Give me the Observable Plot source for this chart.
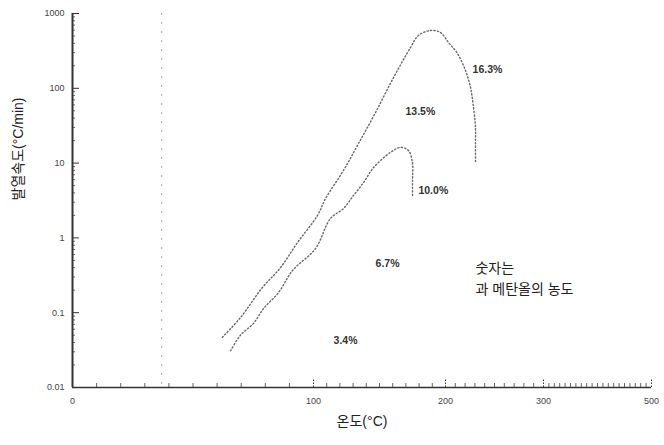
<!DOCTYPE html>
<html><head><meta charset="utf-8">
<script src="https://cdn.jsdelivr.net/npm/d3@7"></script>
<script src="https://cdn.jsdelivr.net/npm/@observablehq/plot@0.6"></script>
<style>
body{margin:0;background:#fff}
svg{font-family:"Liberation Sans","Noto Sans CJK KR",Arial,sans-serif}
</style>
</head><body><div id="chart"></div>
<script>
// tick values / labels
const xTicks = [0, 100, 200, 300, 500];
const xTickLabels = ["0", "100", "200", "300", "500"];
const yTicks = [0.01, 0.1, 1, 10, 100, 1000];
const yTickLabels = ["0.01", "0.1", "1", "10", "100", "1000"];

// visible curves (16.3% outer, 10.0% inner)
const curve163X = [62.2, 69.7, 78.8, 86.3, 93.4, 103.0, 109.1, 122.7, 134.1, 147, 160.6, 173.5, 179.5, 188.6, 196.2, 203.1, 212.2, 220.4, 225.5, 228.6, 230.6, 230.6, 230.6];
const curve163Y = [0.047, 0.086, 0.217, 0.40, 0.87, 1.99, 3.36, 7.96, 18.3, 47.5, 139, 351, 508, 593, 557, 409, 292, 173, 103, 55, 30, 18.3, 9.9];
const curve100X = [65.6, 69.7, 75.1, 79.3, 85.5, 91.3, 101.5, 112.9, 122.7, 130.3, 137.9, 145.5, 158.3, 165.9, 172, 175, 175, 175];
const curve100Y = [0.031, 0.050, 0.072, 0.114, 0.186, 0.366, 0.72, 1.82, 2.47, 3.69, 5.5, 8.7, 13.9, 16.2, 14.7, 9.9, 5.85, 3.47];

// series labels
const seriesNames = ["16.3%", "13.5%", "10.0%", "6.7%", "3.4%"];
const labelX = [227.6, 169.7, 179.5, 147, 115.2];
const labelY = [178, 49, 4.3, 0.455, 0.0425];

const noteText = "숫자는\n과 메탄올의 농도";
const noteX = 230.6, noteY = 0.3;
const xTitle = "온도(°C)";
const yTitle = "발열속도(°C/min)";

const lineData = [
  ...curve163X.map((x, i) => ({series: "16.3%", x, y: curve163Y[i]})),
  ...curve100X.map((x, i) => ({series: "10.0%", x, y: curve100Y[i]}))
];
const labels = seriesNames.map((t, i) => ({t, x: labelX[i], y: labelY[i]}));

const xMinor = d3.range(0, 501, 10).filter(v => !xTicks.includes(v));
const yMinor = [];
for (let e = -2; e < 3; e++) for (let m = 2; m <= 9; m++) yMinor.push(m * Math.pow(10, e));

const ink = "#333";
const chart = Plot.plot({
  width: 664, height: 445,
  marginLeft: 72, marginRight: 13, marginTop: 13, marginBottom: 58,
  x: {type: "linear", domain: [0, 100, 200, 300, 500], range: [72, 313, 445, 543, 651]},
  y: {type: "log", domain: [0.01, 1000]},
  marks: [
    Plot.ruleX([37], {stroke: "#aaa", strokeDasharray: "2,7", strokeWidth: 1}),
    Plot.line(lineData, {x: "x", y: "y", z: "series", curve: "catmull-rom",
      stroke: "#666", strokeWidth: 1.4, strokeDasharray: "1.2,2.3"}),
    Plot.axisY(yTicks, {anchor: "left", tickSize: -7, tickFormat: () => "", label: null, stroke: ink}),
    Plot.axisY(yMinor, {anchor: "left", tickSize: -3, tickFormat: () => "", label: null, stroke: "#666"}),
    Plot.axisY(yTicks, {anchor: "left", tickSize: 0, tickPadding: 8, fontSize: 9, fill: "#444",
      tickFormat: d => yTickLabels[yTicks.indexOf(d)], label: null}),
    Plot.axisX(xTicks, {anchor: "bottom", tickSize: -9, tickFormat: () => "", label: null, stroke: ink, strokeDasharray: "1.5,1.5"}),
    Plot.axisX(xMinor, {anchor: "bottom", tickSize: -4, tickFormat: () => "", label: null, stroke: "#666"}),
    Plot.axisX(xTicks, {anchor: "bottom", tickSize: 0, tickPadding: 10, fontSize: 9, fill: "#444",
      tickFormat: d => xTickLabels[xTicks.indexOf(d)], label: null}),
    Plot.text(labels, {x: "x", y: "y", text: "t", textAnchor: "start", fontSize: 10.5, fill: "#333", fontWeight: "bold"}),
    Plot.text([noteText], {x: noteX, y: noteY, textAnchor: "start", lineAnchor: "middle", lineHeight: 1.45, fontSize: 14, fill: "#222"}),
    Plot.text([xTitle], {frameAnchor: "bottom", dy: 38, fontSize: 14, fill: "#222"}),
    Plot.text([yTitle], {frameAnchor: "left", dx: -54, rotate: -90, fontSize: 14, fill: "#222"}),
    Plot.ruleX([0], {stroke: ink, strokeWidth: 2}),
    Plot.ruleY([0.01], {stroke: ink, strokeWidth: 1.3})
  ]
});
document.getElementById("chart").append(chart);
</script>
</body></html>
